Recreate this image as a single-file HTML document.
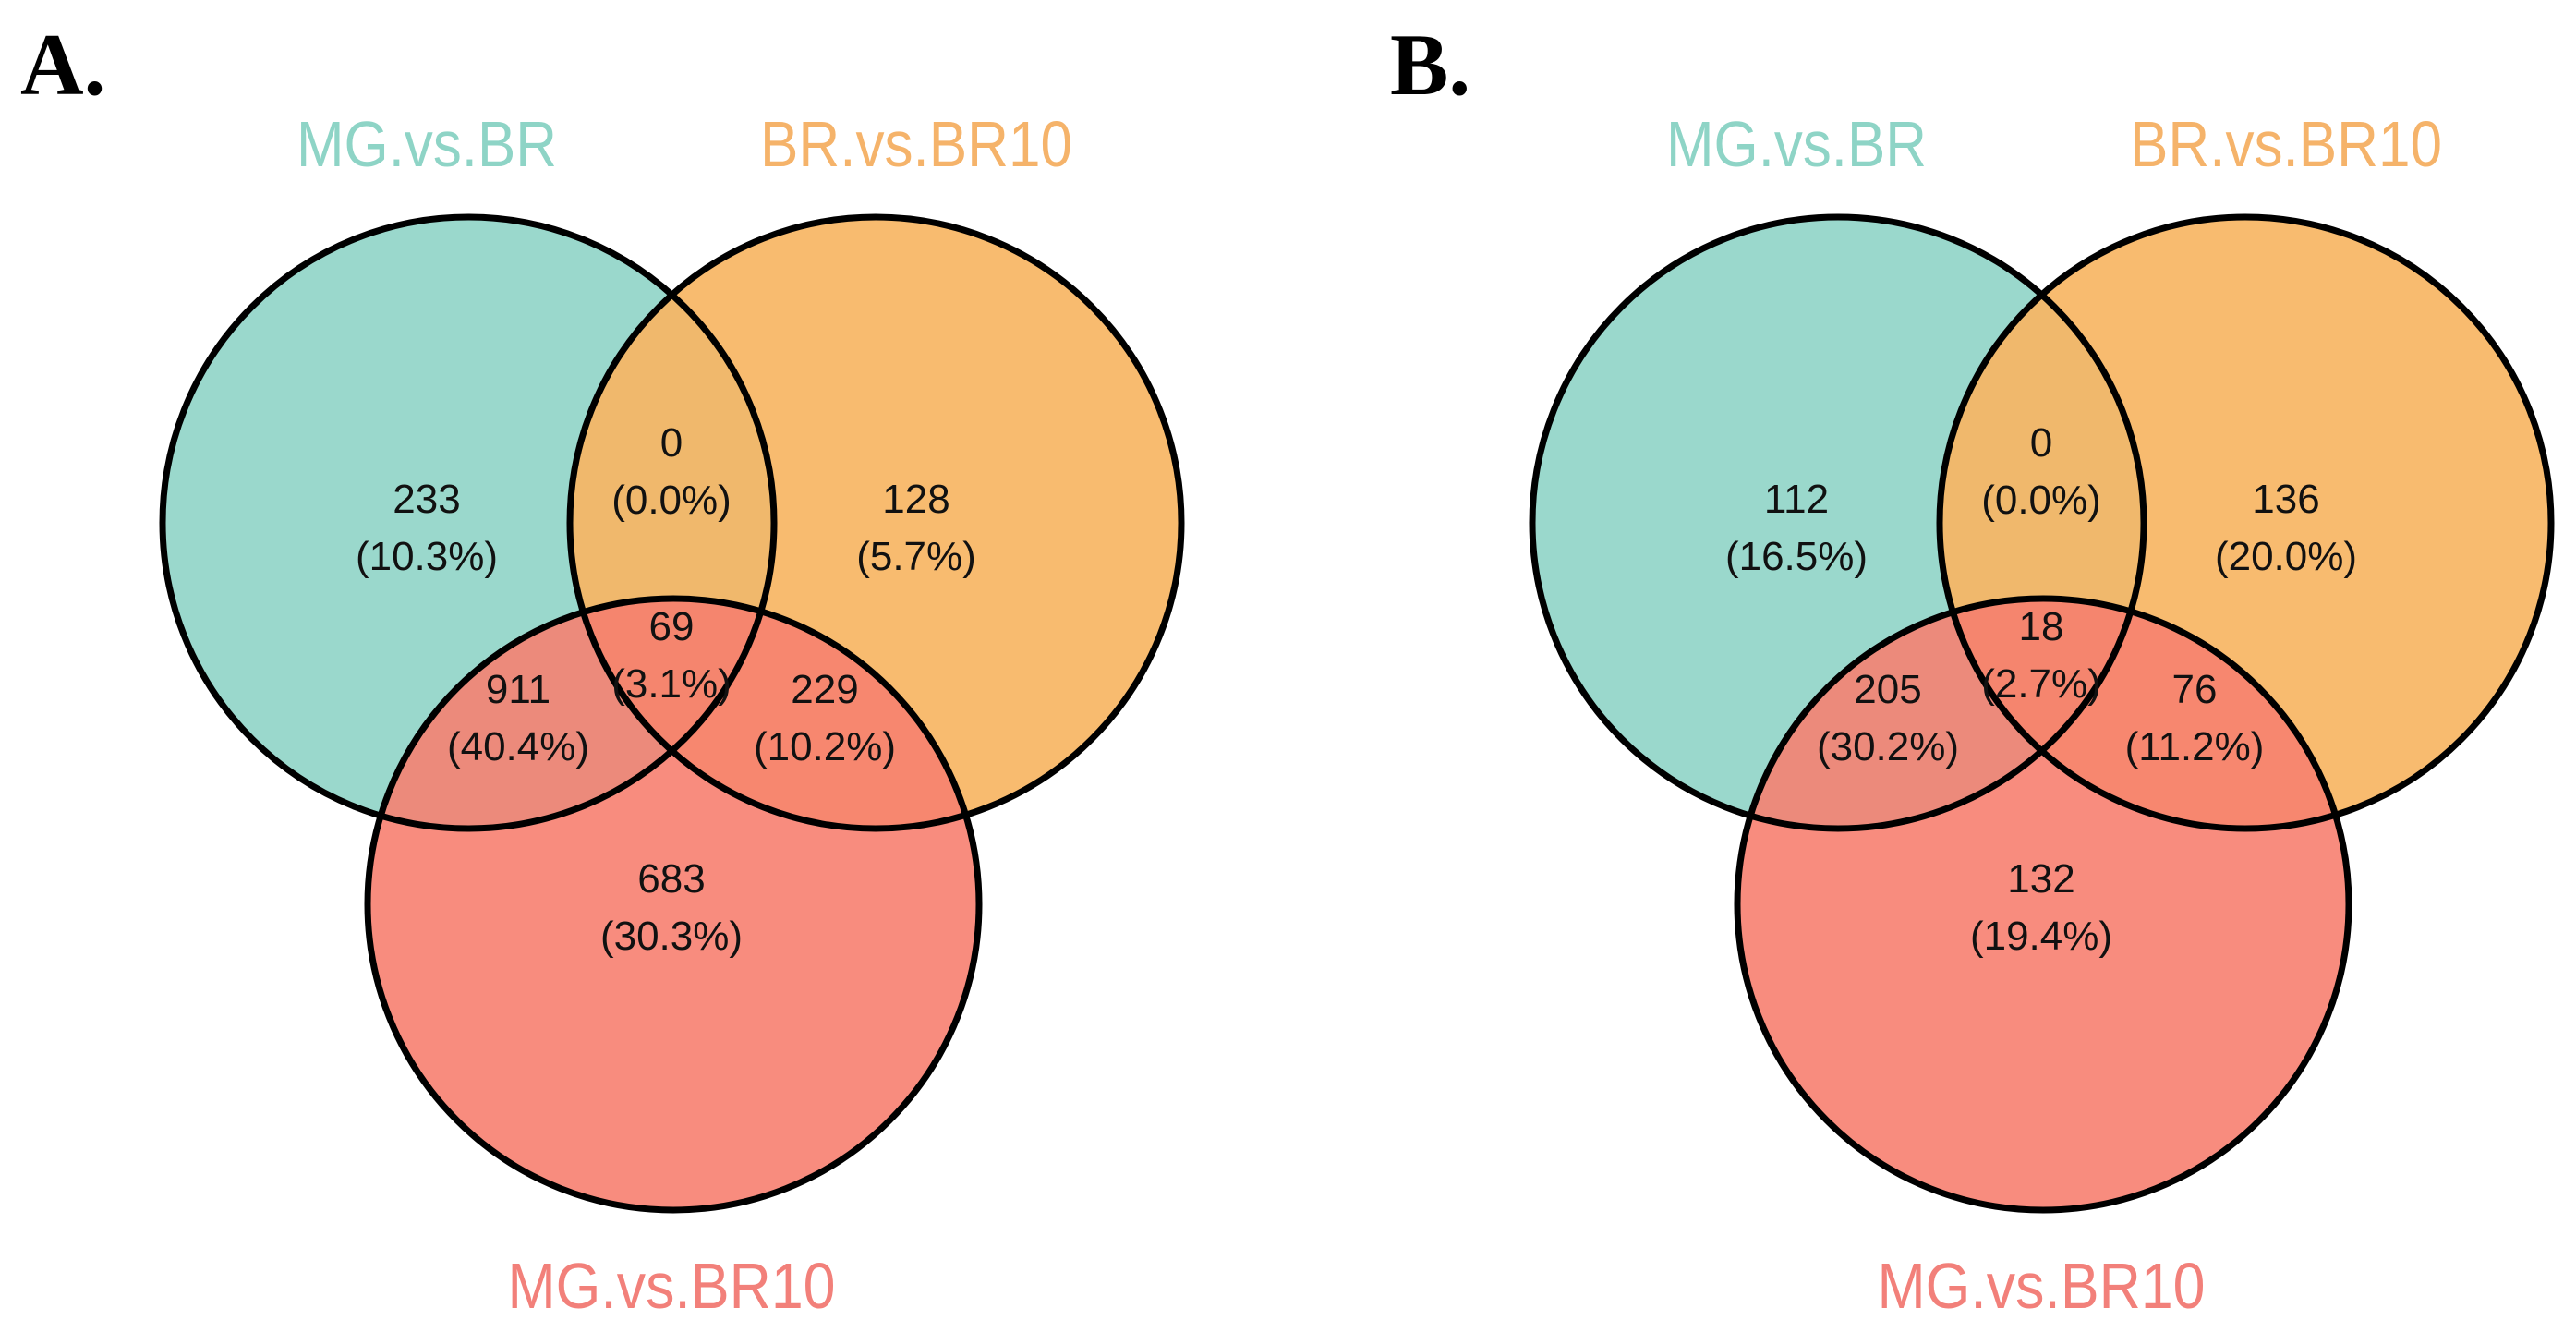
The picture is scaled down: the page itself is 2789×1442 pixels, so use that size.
<!DOCTYPE html>
<html><head><meta charset="utf-8"><style>html,body{margin:0;padding:0;background:#fff}svg{display:block}</style></head>
<body>
<svg id="chart" width="2789" height="1442" viewBox="0 0 2789 1442" xmlns="http://www.w3.org/2000/svg"></svg>
<script>
const panelLabels = ["A.", "B."];
const setNames = ["MG.vs.BR", "BR.vs.BR10", "MG.vs.BR10"];
// region order: onlyA, AB, onlyB, ABC, AC, BC, onlyC
const regionNames = ["only-mg-vs-br","mg-br-and-br-br10","only-br-vs-br10","all-three","mg-br-and-mg-br10","br-br10-and-mg-br10","only-mg-vs-br10"];
const countsA = [233, 0, 128, 69, 911, 229, 683];
const pctsA = ["10.3%","0.0%","5.7%","3.1%","40.4%","10.2%","30.3%"];
const countsB = [112, 0, 136, 18, 205, 76, 132];
const pctsB = ["16.5%","0.0%","20.0%","2.7%","30.2%","11.2%","19.4%"];

const NS = "http://www.w3.org/2000/svg";
const svg = document.getElementById("chart");
function mk(tag, attrs, parent){const e=document.createElementNS(NS,tag);for(const k in attrs)e.setAttribute(k,attrs[k]);(parent||svg).appendChild(e);return e;}

const R = 331;
const fills = ["#9AD8CC","#F8BB6F","#F88C7E"];
const titleCols = ["#8ED4C6","#F5B36A","#F2807A"];
const ovAB="#F0B86C", ovAC="#EC8A7B", ovBC="#F7876F", ovABC="#F5856E";
const regionPos = [[462,555],[727,494],[992,555],[727,693],[561,761],[893,761],[727,966]];
const defs = mk("defs",{});

function panel(idx, dx, counts, pcts){
  const g = mk("g",{transform:`translate(${dx},0)`});
  
  
  const c = [[507,566],[948,566],[729,979]];
  const lab = mk("text",{x:22,y:102,"font-family":"Liberation Serif, serif","font-weight":"bold","font-size":95,fill:"#000"},g);
  lab.textContent = panelLabels[idx];
  
  
  const ids = c.map((p,i)=>{const id=`clip${idx}_${i}`;const cp=mk("clipPath",{id},defs);mk("circle",{cx:p[0],cy:p[1],r:R},cp);return id;});
  c.forEach((p,i)=>{const e=mk("circle",{cx:p[0],cy:p[1],r:R,fill:fills[i]},g);
    
    });
  const ov=(a,b,col)=>{const gg=mk("g",{"clip-path":`url(#${ids[a]})`},g);mk("circle",{cx:c[b][0],cy:c[b][1],r:R,fill:col},gg);return gg;};
  ov(0,1,ovAB); ov(0,2,ovAC); ov(1,2,ovBC);
  const g3=mk("g",{"clip-path":`url(#${ids[0]})`},g);const g4=mk("g",{"clip-path":`url(#${ids[1]})`},g3);
  mk("circle",{cx:c[2][0],cy:c[2][1],r:R,fill:ovABC},g4);
  c.forEach(p=>mk("circle",{cx:p[0],cy:p[1],r:R,fill:"none",stroke:"#000","stroke-width":7},g));
  const tpos=[[462,180],[992,180],[727,1416]];
  const tlen=[282,338,355];
  setNames.forEach((n,i)=>{const t=mk("text",{x:tpos[i][0],y:tpos[i][1],"text-anchor":"middle","font-family":"Liberation Sans, sans-serif","font-size":70,textLength:tlen[i],lengthAdjust:"spacingAndGlyphs",fill:titleCols[i]},g);
    t.textContent=n;
    
    });
  counts.forEach((v,i)=>{
    const [x,y]=regionPos[i];
    const t1=mk("text",{x,y,"text-anchor":"middle","font-family":"Liberation Sans, sans-serif","font-size":44,fill:"#111"},g);
    t1.textContent=String(v);
    
    
    const t2=mk("text",{x,y:y+62,"text-anchor":"middle","font-family":"Liberation Sans, sans-serif","font-size":44,fill:"#111"},g);
    t2.textContent="("+pcts[i]+")";
    
    
  });
}
panel(0,0,countsA,pctsA);
panel(1,1483,countsB,pctsB);
</script>
</body></html>
